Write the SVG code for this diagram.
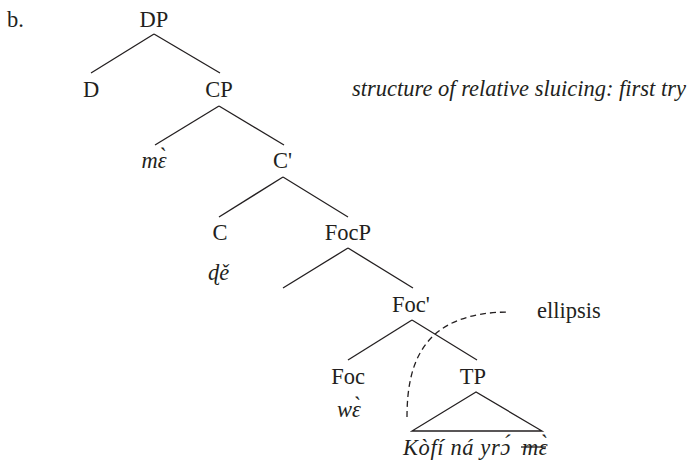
<svg xmlns="http://www.w3.org/2000/svg" width="694" height="464" viewBox="0 0 694 464">
<style>
.edge{stroke:#231f20;stroke-width:1.3;fill:none}
.dash{stroke:#231f20;stroke-width:1.3;fill:none;stroke-dasharray:6 4}
</style>
<rect width="694" height="464" fill="#fff"/>
<g font-family="Liberation Serif" font-size="22.5" fill="#231f20">
<text x="7" y="27">b.</text>
</g>
<g id="connectors">
<line class="edge" x1="154" y1="34" x2="91" y2="73"/>
<line class="edge" x1="154" y1="34" x2="220" y2="73"/>
<line class="edge" x1="219" y1="106" x2="155" y2="145"/>
<line class="edge" x1="219" y1="106" x2="284" y2="145"/>
<line class="edge" x1="283" y1="177" x2="219" y2="217"/>
<line class="edge" x1="283" y1="177" x2="348" y2="217"/>
<line class="edge" x1="348" y1="248" x2="283" y2="288"/>
<line class="edge" x1="348" y1="248" x2="413" y2="288"/>
<line class="edge" x1="412" y1="320" x2="348" y2="360"/>
<line class="edge" x1="412" y1="320" x2="477" y2="360"/>
<polygon class="edge" points="476,392 412,431 542,431"/>
<path class="dash" d="M407,417 C407,360 425,312 510,312"/>
</g>
<g font-family="Liberation Serif" font-size="22.5" fill="#231f20">
<g id="DP"><text x="154" y="27" text-anchor="middle">DP</text></g>
<g id="D"><text x="91" y="97" text-anchor="middle">D</text></g>
<g id="CP"><text x="219" y="97" text-anchor="middle">CP</text></g>
<g id="caption"><text font-style="italic" x="352" y="96">structure of relative sluicing: first try</text></g>
<g id="me"><text font-style="italic" x="154" y="168" text-anchor="middle">mɛ̀</text></g>
<g id="Cbar"><text x="273" y="168">C'</text></g>
<g id="C"><text x="220" y="240" text-anchor="middle">C</text></g>
<g id="de"><text font-style="italic" x="208" y="280">ɖě</text></g>
<g id="FocP"><text x="348" y="240" text-anchor="middle">FocP</text></g>
<g id="Focbar"><text x="392" y="312">Foc'</text></g>
<g id="ellipsis"><text x="537" y="318">ellipsis</text></g>
<g id="Foc"><text x="348" y="384" text-anchor="middle">Foc</text></g>
<g id="we"><text font-style="italic" x="337" y="417">wɛ̀</text></g>
<g id="TP"><text x="473" y="384" text-anchor="middle">TP</text></g>
<g id="TPcontent"><text font-style="italic" x="403" y="455" letter-spacing="0.6">Kòfí ná yrɔ́ <tspan x="522">mɛ̀</tspan></text>
<line x1="521" y1="447" x2="546" y2="447" stroke="#231f20" stroke-width="1.3"/></g>
</g>
</svg>
